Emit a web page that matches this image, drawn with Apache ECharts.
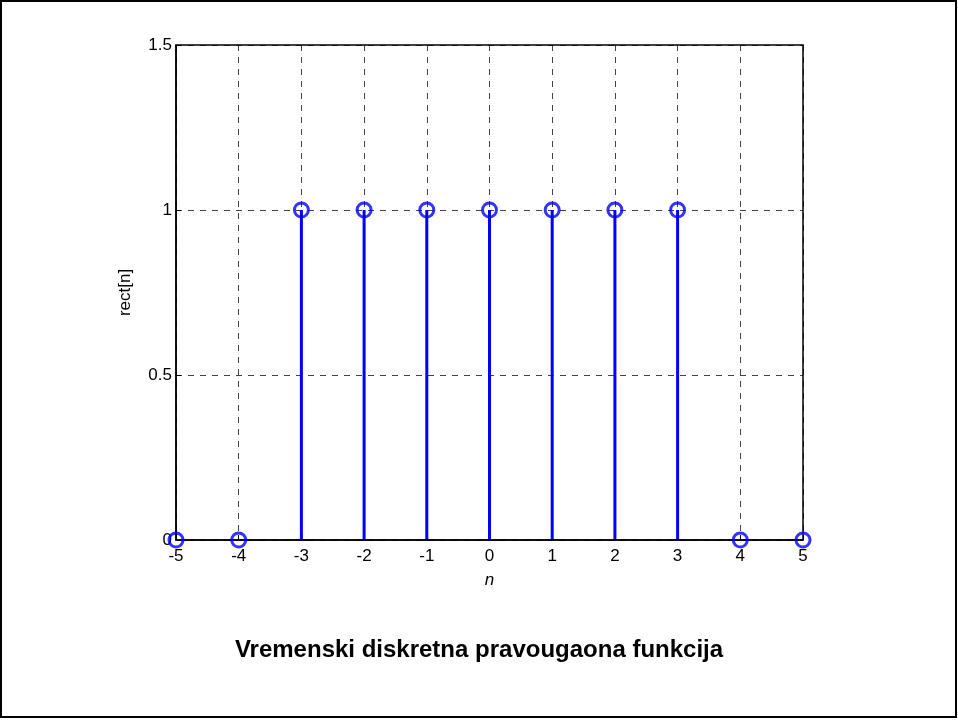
<!DOCTYPE html>
<html><head><meta charset="utf-8">
<script src="https://cdn.jsdelivr.net/npm/echarts@6/dist/echarts.min.js"></script>
<style>html,body{margin:0;padding:0;background:#fff}#c{width:958px;height:720px}</style>
</head><body><div id="c"></div>
<script>
const nValues = [-5, -4, -3, -2, -1, 0, 1, 2, 3, 4, 5];
const rectValues = [0, 0, 1, 1, 1, 1, 1, 1, 1, 0, 0];
const titleText = 'Vremenski diskretna pravougaona funkcija';
const xLabel = 'n';
const yLabel = 'rect[n]';

const pts = nValues.map((n, i) => [n, rectValues[i]]);
const chart = echarts.init(document.getElementById('c'));
const font = 'Liberation Sans, Arial, Helvetica, sans-serif';
chart.setOption({
  animation: false,
  backgroundColor: '#fff',
  title: {
    text: titleText, left: 'center', top: 633,
    textStyle: { fontFamily: font, fontSize: 24, fontWeight: 'bold', color: '#000' }
  },
  graphic: [{
    type: 'rect', shape: { x: 1, y: 1, width: 955, height: 716 },
    style: { fill: 'none', stroke: '#000', lineWidth: 2 }, silent: true
  }],
  grid: { left: 176, right: 155, top: 45, bottom: 180, show: true, borderColor: '#000', borderWidth: 1.5, backgroundColor: 'transparent', z: 5 },
  xAxis: {
    type: 'value', min: -5, max: 5, interval: 1,
    name: xLabel, nameLocation: 'middle', nameGap: 32,
    nameTextStyle: { fontFamily: font, fontSize: 17, fontStyle: 'italic', color: '#000' },
    axisLine: { show: true, onZero: false, lineStyle: { color: '#000', width: 1.5 } },
    axisTick: { show: true, inside: true, length: 5, lineStyle: { color: '#000' } },
    axisLabel: { fontFamily: font, fontSize: 17, color: '#000', margin: 8 },
    splitLine: { show: true, lineStyle: { color: '#444', type: [6, 6], width: 1 } }
  },
  yAxis: {
    type: 'value', min: 0, max: 1.5, interval: 0.5,
    name: yLabel, nameLocation: 'middle', nameGap: 42, nameRotate: 90,
    nameTextStyle: { fontFamily: font, fontSize: 17, color: '#000' },
    axisLine: { show: true, onZero: false, lineStyle: { color: '#000', width: 1.5 } },
    axisTick: { show: true, inside: true, length: 5, lineStyle: { color: '#000' } },
    axisLabel: { fontFamily: font, fontSize: 17, color: '#000', margin: 4 },
    splitLine: { show: true, lineStyle: { color: '#444', type: [6, 6], width: 1 } }
  },
  series: [{
    type: 'custom',
    data: pts,
    renderItem: function (params, api) {
      const top = api.coord([api.value(0), api.value(1)]);
      const base = api.coord([api.value(0), 0]);
      return {
        type: 'line',
        shape: { x1: base[0], y1: base[1], x2: top[0], y2: top[1] },
        style: { stroke: '#0000ff', lineWidth: 3 }
      };
    },
    z: 3
  }, {
    type: 'scatter',
    data: pts,
    symbol: 'circle',
    symbolSize: 14,
    itemStyle: { color: 'rgba(0,0,0,0)', borderColor: '#0000ff', borderWidth: 3 },
    clip: false,
    z: 6
  }]
});
</script></body></html>
